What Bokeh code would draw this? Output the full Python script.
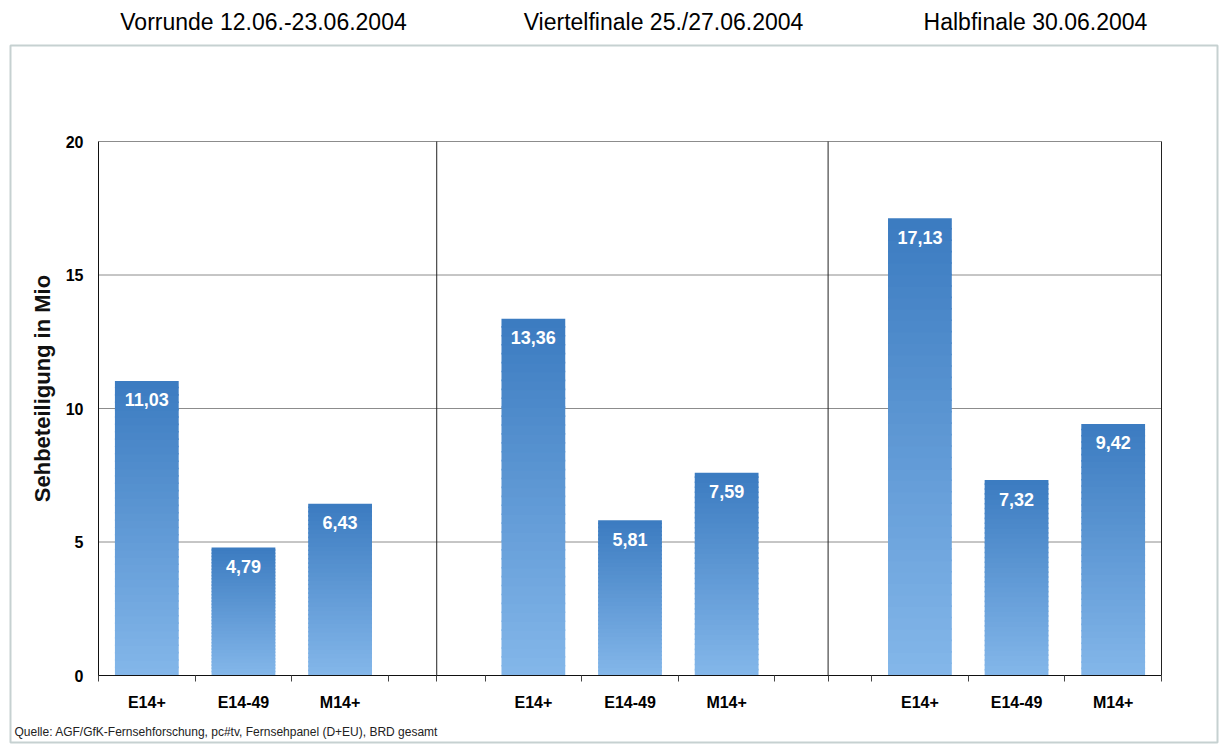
from bokeh.plotting import figure
from bokeh.models import Range1d, FixedTicker
from bokeh.core.properties import value
from bokeh.embed import file_html
from bokeh.resources import INLINE
import math

# ---- data ----
groups = ["Vorrunde 12.06.-23.06.2004", "Viertelfinale 25./27.06.2004", "Halbfinale 30.06.2004"]
categories = ["E14+", "E14-49", "M14+"]
vorrunde = [11.03, 4.79, 6.43]
viertelfinale = [13.36, 5.81, 7.59]
halbfinale = [17.13, 7.32, 9.42]
y_ticks = [0, 5, 10, 15, 20]
source_text = "Quelle: AGF/GfK-Fernsehforschung, pc#tv, Fernsehpanel (D+EU), BRD gesamt"
y_label = "Sehbeteiligung in Mio"

series = [vorrunde, viertelfinale, halbfinale]
slot_start = [0, 4, 8]
separators = [3.0, 7.05]

W, H = 1220, 753
# plot area in page pixels
FL, FR, FT, FB = 98, 1161, 141, 675
X0, X1 = -0.5, 10.5
Y0, Y1 = 0, 20
FONT = "Liberation Sans"

def X(px):
    return X0 + (px - FL) / (FR - FL) * (X1 - X0)

def Y(py):
    return Y0 + (FB - py) / (FB - FT) * (Y1 - Y0)

p = figure(width=W, height=H, output_backend="svg", toolbar_location=None, title=None,
           x_range=Range1d(X(0), X(W)), y_range=Range1d(Y(H), Y(0)),
           min_border_left=0, min_border_right=0, min_border_top=0, min_border_bottom=0)
p.background_fill_color = "white"
p.border_fill_color = "white"
p.outline_line_color = None
p.xgrid.visible = False
p.ygrid.visible = False

# outer box
p.quad(left=[X(10)], right=[X(1217)], top=[Y(45)], bottom=[Y(742)],
       fill_color="white", line_color="#c6d1d1", line_width=2)

# grid lines
p.segment(x0=[X0] * len(y_ticks), y0=y_ticks, x1=[X1] * len(y_ticks), y1=y_ticks,
          line_color="#8c8c8c", line_width=1)

# gradient bars
TOP = (0x3b, 0x7b, 0xc0)
BOT = (0x84, 0xb7, 0xea)
N = 40
xs_l, xs_r, bs, ts, cols = [], [], [], [], []
bw = 0.66
for g, vals in enumerate(series):
    for i, v in enumerate(vals):
        xc = slot_start[g] + i
        for k in range(N):
            f = (k + 0.5) / N
            c = tuple(int(round(BOT[j] + (TOP[j] - BOT[j]) * f)) for j in range(3))
            xs_l.append(xc - bw / 2)
            xs_r.append(xc + bw / 2)
            bs.append(v * k / N)
            ts.append(min(v * (k + 1) / N + 0.06, v))
            cols.append("#%02x%02x%02x" % c)
p.quad(left=xs_l, right=xs_r, bottom=bs, top=ts, fill_color=cols, line_color=None)

# value labels
lx, ly, lt = [], [], []
for g, vals in enumerate(series):
    for i, v in enumerate(vals):
        lx.append(slot_start[g] + i)
        ly.append(v)
        lt.append(("%.2f" % v).replace(".", ","))
p.text(x=lx, y=ly, text=lt, text_color="white", text_font_size="18px",
       text_font_style="bold", text_align="center", text_baseline="middle",
       y_offset=19, text_font=value(FONT))

# separators and right border
p.segment(x0=separators, y0=[Y0] * 2, x1=separators, y1=[Y1] * 2, line_color="#222222", line_width=1)
p.segment(x0=[X1], y0=[Y0], x1=[X1], y1=[Y1], line_color="#222222", line_width=1)

# axes at fixed locations
p.yaxis.fixed_location = X0
p.yaxis.bounds = (Y0, Y1)
p.yaxis.ticker = FixedTicker(ticks=y_ticks)
p.yaxis.major_label_text_font = FONT
p.yaxis.major_label_text_font_style = "bold"
p.yaxis.major_label_text_font_size = "16px"
p.yaxis.major_label_text_color = "black"
p.yaxis.major_tick_out = 0
p.yaxis.major_tick_in = 0
p.yaxis.minor_tick_line_color = None
p.yaxis.major_label_standoff = 15
p.yaxis.axis_line_color = "#111111"

xt = [slot_start[g] + i for g in range(3) for i in range(3)]
minor = [s - 0.5 for s in range(12)] + separators
p.xaxis.fixed_location = Y0
p.xaxis.bounds = (X0, X1)
p.xaxis.ticker = FixedTicker(ticks=xt, minor_ticks=minor)
p.xaxis.major_label_overrides = {slot_start[g] + i: categories[i] for g in range(3) for i in range(3)}
p.xaxis.major_label_text_font = FONT
p.xaxis.major_label_text_font_style = "bold"
p.xaxis.major_label_text_font_size = "16px"
p.xaxis.major_label_text_color = "black"
p.xaxis.major_tick_line_color = None
p.xaxis.major_tick_out = 0
p.xaxis.major_tick_in = 0
p.xaxis.major_label_standoff = 12
p.xaxis.minor_tick_in = 0
p.xaxis.minor_tick_out = 6
p.xaxis.minor_tick_line_color = "#444444"
p.xaxis.axis_line_color = "#111111"

# group titles
title_px = [263, 663, 1035]
p.text(x=[X(t) for t in title_px], y=[Y(21)] * 3, text=groups, text_align="center",
       text_baseline="middle", text_font=value(FONT), text_font_size="23px", text_color="#000000")

# y axis title
p.text(x=[X(42)], y=[Y(388)], text=[y_label], angle=math.pi / 2, text_align="center",
       text_baseline="middle", text_font=value(FONT), text_font_size="22px",
       text_font_style="bold", text_color="#111111")

# source
p.text(x=[X(14)], y=[Y(731)], text=[source_text], text_align="left", text_baseline="middle",
       text_font=value(FONT), text_font_size="12px", text_color="#222222")

open("out.html", "w").write(file_html(p, INLINE))
